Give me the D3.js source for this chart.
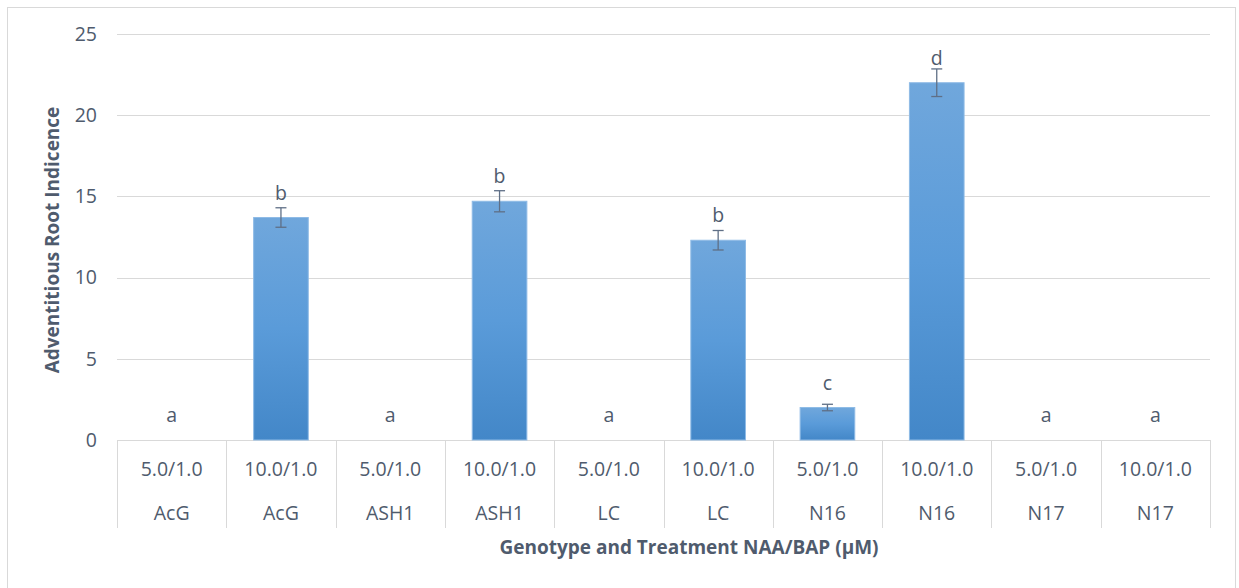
<!DOCTYPE html>
<html>
<head>
<meta charset="utf-8">
<script src="https://cdn.jsdelivr.net/npm/d3@7"></script>
<style>
  html, body { margin: 0; padding: 0; background: #fff; }
  svg { display: block; }
  text { font-family: "Open Sans", "Noto Sans", sans-serif; fill: #4f5b6d; }
</style>
</head>
<body>
<script>
// Adventitious root indicence by genotype and NAA/BAP treatment
const genotypes  = ["AcG", "AcG", "ASH1", "ASH1", "LC", "LC", "N16", "N16", "N17", "N17"];
const treatments = ["5.0/1.0", "10.0/1.0", "5.0/1.0", "10.0/1.0", "5.0/1.0", "10.0/1.0", "5.0/1.0", "10.0/1.0", "5.0/1.0", "10.0/1.0"];
const means      = [0, 13.7, 0, 14.7, 0, 12.3, 2.0, 22.0, 0, 0];
const errors     = [0, 0.6, 0, 0.65, 0, 0.6, 0.2, 0.85, 0, 0];
const letters    = ["a", "b", "a", "b", "a", "b", "c", "d", "a", "a"];
const yTicks     = [0, 5, 10, 15, 20, 25];

const W = 1239, H = 588;
const plot = { left: 117, right: 1210, top: 34, bottom: 440 };

const svg = d3.select("body").append("svg").attr("width", W).attr("height", H);

// chart frame
svg.append("rect")
  .attr("x", 7.5).attr("y", 7.5).attr("width", 1228).attr("height", 590)
  .attr("fill", "#fff").attr("stroke", "#d9d9d9").attr("stroke-width", 1);

const ids = d3.range(means.length);
const x = d3.scaleBand().domain(ids).range([plot.left, plot.right]).padding(0);
const y = d3.scaleLinear().domain([0, 25]).range([plot.bottom, plot.top]);

// gradient fill for bars
const defs = svg.append("defs");
const grad = defs.append("linearGradient").attr("id", "barFill")
  .attr("x1", 0).attr("y1", 0).attr("x2", 0).attr("y2", 1);
grad.append("stop").attr("offset", "0%").attr("stop-color", "#70a7dc");
grad.append("stop").attr("offset", "50%").attr("stop-color", "#5a9bd9");
grad.append("stop").attr("offset", "100%").attr("stop-color", "#4387c8");

// horizontal gridlines
svg.append("g").selectAll("line").data(yTicks).join("line")
  .attr("x1", plot.left).attr("x2", plot.right)
  .attr("y1", d => Math.round(y(d)) + 0.5).attr("y2", d => Math.round(y(d)) + 0.5)
  .attr("stroke", "#d9d9d9").attr("stroke-width", 1);

// y tick labels
svg.append("g").selectAll("text").data(yTicks).join("text")
  .attr("x", 97).attr("y", d => y(d)).attr("dy", "0.35em")
  .attr("text-anchor", "end").attr("font-size", 19.5)
  .text(d => d);

// category table dividers
const edges = ids.map(i => x(i)).concat([plot.right]);
svg.append("g").selectAll("line").data(edges).join("line")
  .attr("x1", d => Math.round(d) + 0.5).attr("x2", d => Math.round(d) + 0.5)
  .attr("y1", plot.bottom).attr("y2", 528)
  .attr("stroke", "#d9d9d9").attr("stroke-width", 1);

// bars
const barW = x.bandwidth() * 0.5;
const cx = i => x(i) + x.bandwidth() / 2;
svg.append("g").selectAll("rect").data(ids.filter(i => means[i] > 0)).join("rect")
  .attr("x", i => cx(i) - barW / 2)
  .attr("y", i => y(means[i]))
  .attr("width", barW)
  .attr("height", i => y(0) - y(means[i]))
  .attr("fill", "url(#barFill)")
  .attr("stroke", "#8fbbe6").attr("stroke-width", 1);

// error bars
const eg = svg.append("g").attr("stroke", "#5f6f86").attr("stroke-width", 1.3).attr("fill", "none");
ids.filter(i => errors[i] > 0).forEach(i => {
  const c = cx(i), hi = y(means[i] + errors[i]), lo = y(means[i] - errors[i]);
  eg.append("line").attr("x1", c).attr("x2", c).attr("y1", hi).attr("y2", lo);
  eg.append("line").attr("x1", c - 5.5).attr("x2", c + 5.5).attr("y1", hi).attr("y2", hi);
  eg.append("line").attr("x1", c - 5.5).attr("x2", c + 5.5).attr("y1", lo).attr("y2", lo);
});

// significance letters
svg.append("g").selectAll("text").data(ids).join("text")
  .attr("x", i => cx(i)).attr("y", i => y(means[i]) - 18)
  .attr("text-anchor", "middle").attr("font-size", 19.5)
  .text(i => letters[i]);

// treatment row and genotype row
svg.append("g").selectAll("text").data(ids).join("text")
  .attr("x", i => cx(i)).attr("y", 469).attr("dy", "0.35em")
  .attr("text-anchor", "middle").attr("font-size", 19.5)
  .text(i => treatments[i]);
svg.append("g").selectAll("text").data(ids).join("text")
  .attr("x", i => cx(i)).attr("y", 513).attr("dy", "0.35em")
  .attr("text-anchor", "middle").attr("font-size", 19.5)
  .text(i => genotypes[i]);

// axis titles
svg.append("text")
  .attr("transform", "translate(52,240) rotate(-90)")
  .attr("dy", "0.35em").attr("text-anchor", "middle")
  .attr("font-size", 19).attr("font-weight", "bold")
  .text("Adventitious Root Indicence");
svg.append("text")
  .attr("x", 689).attr("y", 547).attr("dy", "0.35em")
  .attr("text-anchor", "middle").attr("font-size", 19).attr("font-weight", "bold")
  .text("Genotype and Treatment NAA/BAP (μM)");
</script>
</body>
</html>
